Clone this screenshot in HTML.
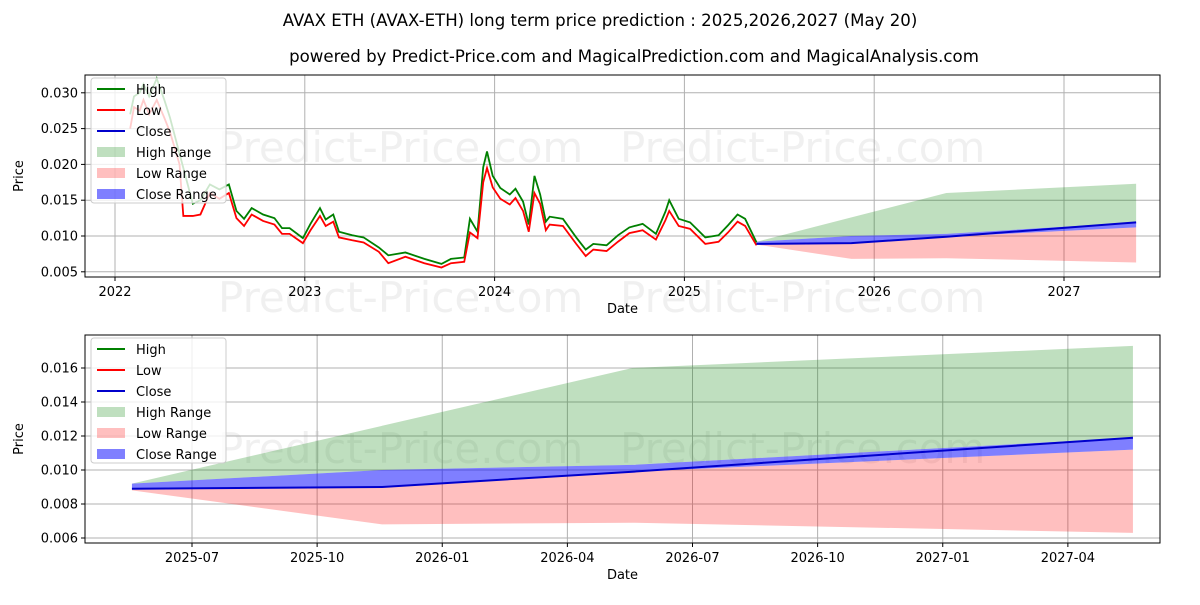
<!DOCTYPE html>
<html><head><meta charset="utf-8"><style>
body{margin:0;background:#fff;font-family:"Liberation Sans","DejaVu Sans",sans-serif}
svg text{font-family:"DejaVu Sans","Liberation Sans",sans-serif}
</style></head><body>
<svg id="c" width="1200" height="600" viewBox="0 0 1200 600" xmlns="http://www.w3.org/2000/svg">
<text x="600" y="26" text-anchor="middle" font-size="16.6">AVAX ETH (AVAX-ETH) long term price prediction : 2025,2026,2027 (May 20)</text>
<text x="634" y="62" text-anchor="middle" font-size="16.6">powered by Predict-Price.com and MagicalPrediction.com and MagicalAnalysis.com</text>
</svg>
<script>
// historical data (decimal year)
const histDates=[2022.08,2022.10,2022.13,2022.15,2022.18,2022.22,2022.26,2022.29,2022.34,2022.36,2022.41,2022.45,2022.50,2022.55,2022.60,2022.64,2022.68,2022.72,2022.78,2022.84,2022.88,2022.92,2022.99,2023.03,2023.08,2023.11,2023.15,2023.18,2023.25,2023.31,2023.39,2023.44,2023.53,2023.63,2023.72,2023.77,2023.84,2023.87,2023.91,2023.94,2023.96,2023.99,2024.03,2024.08,2024.11,2024.15,2024.18,2024.21,2024.24,2024.27,2024.29,2024.36,2024.43,2024.48,2024.52,2024.59,2024.65,2024.71,2024.78,2024.85,2024.90,2024.92,2024.97,2025.03,2025.11,2025.18,2025.23,2025.28,2025.32,2025.38];
const histHigh=[0.0270,0.0295,0.0300,0.0312,0.0295,0.0320,0.0290,0.0265,0.0215,0.0195,0.0145,0.0150,0.0172,0.0165,0.0172,0.0135,0.0124,0.0139,0.0130,0.0125,0.0111,0.0111,0.0097,0.0117,0.0139,0.0123,0.0130,0.0106,0.0101,0.0098,0.0084,0.0073,0.0077,0.0068,0.0061,0.0068,0.0070,0.0124,0.0106,0.0196,0.0218,0.0184,0.0167,0.0158,0.0166,0.0148,0.0116,0.0184,0.0158,0.0120,0.0127,0.0124,0.0098,0.0081,0.0089,0.0087,0.0101,0.0112,0.0117,0.0103,0.0134,0.0150,0.0124,0.0119,0.0098,0.0101,0.0115,0.0130,0.0124,0.0091];
const histLow=[0.0250,0.0280,0.0275,0.0290,0.0270,0.0290,0.0265,0.0245,0.0200,0.0128,0.0128,0.0130,0.0160,0.0152,0.0160,0.0125,0.0114,0.0130,0.0121,0.0116,0.0103,0.0103,0.0090,0.0108,0.0128,0.0114,0.0120,0.0098,0.0094,0.0091,0.0078,0.0062,0.0071,0.0062,0.0056,0.0062,0.0064,0.0105,0.0097,0.0175,0.0195,0.0168,0.0152,0.0144,0.0153,0.0135,0.0106,0.0160,0.0145,0.0108,0.0116,0.0114,0.0089,0.0072,0.0081,0.0079,0.0092,0.0104,0.0108,0.0095,0.0122,0.0135,0.0114,0.0110,0.0089,0.0092,0.0105,0.0120,0.0114,0.0087];
// forecast data
const fcDates=[2025.38,2025.88,2026.38,2027.38];
const fcClose=[0.0089,0.0090,0.0099,0.0119];
const fcCloseLow=[0.0089,0.0090,0.0099,0.0112];
const fcCloseHigh=[0.0092,0.0100,0.0103,0.0119];
const fcHighUp=[0.0092,0.0126,0.0160,0.0173];
const fcLowDown=[0.0088,0.0068,0.0069,0.0063];
const topYTicks=[0.005,0.010,0.015,0.020,0.025,0.030];
const topXTicks=[2022,2023,2024,2025,2026,2027];
const botYTicks=[0.006,0.008,0.010,0.012,0.014,0.016];
const botXTicks=[2025.5,2025.75,2026,2026.25,2026.5,2026.75,2027,2027.25];
const botXLabels=["2025-07","2025-10","2026-01","2026-04","2026-07","2026-10","2027-01","2027-04"];

const svg=document.getElementById('c');const NS='http://www.w3.org/2000/svg';
function mk(t,a,p){const e=document.createElementNS(NS,t);for(const k in a)e.setAttribute(k,a[k]);(p||svg).appendChild(e);return e;}
function txt(x,y,s,a,p){const e=mk('text',Object.assign({x:x,y:y},a),p);e.textContent=s;return e;}

function panel(P){
  const g=mk('g',{});
  
  
  const X=P.x, Y=P.y;
  P.wm.forEach(w=>{const t=txt(w[0],w[1],'Predict-Price.com',{'font-size':42,fill:'#000','fill-opacity':0.06},g);
    
    });
  P.yt.forEach(v=>{mk('line',{x1:P.l,x2:P.r,y1:Y(v),y2:Y(v),stroke:'#b0b0b0','stroke-width':1},g);
    mk('line',{x1:P.l-4,x2:P.l,y1:Y(v),y2:Y(v),stroke:'#000'},g);
    const t=txt(P.l-7,Y(v)+4.5,v.toFixed(3),{'font-size':13,'text-anchor':'end'},g);
    
    });
  P.xt.forEach((v,i)=>{mk('line',{x1:X(v),x2:X(v),y1:P.t,y2:P.b,stroke:'#b0b0b0','stroke-width':1},g);
    mk('line',{x1:X(v),x2:X(v),y1:P.b,y2:P.b+4,stroke:'#000'},g);
    const t=txt(X(v),P.b+19,P.xl[i],{'font-size':13,'text-anchor':'middle'},g);
    
    });
  function band(up,lo,fill,op,name){
    let d='M'+fcDates.map((t,i)=>X(t)+','+Y(up[i])).join('L');
    d+='L'+fcDates.map((t,i)=>X(t)+','+Y(lo[i])).reverse().join('L')+'Z';
    const e=mk('path',{d:d,fill:fill,'fill-opacity':op},g);
    
    }
  band(fcHighUp,fcCloseHigh,'#008000',0.25,'high-range-band');
  band(fcCloseLow,fcLowDown,'#ff0000',0.25,'low-range-band');
  band(fcCloseHigh,fcCloseLow,'#0000ff',0.5,'close-range-band');
  if(P.hist){
    const h=mk('polyline',{points:histDates.map((t,i)=>X(t)+','+Y(histHigh[i])).join(' '),fill:'none',stroke:'#008000','stroke-width':1.8},g);
    
    
    const lo=mk('polyline',{points:histDates.map((t,i)=>X(t)+','+Y(histLow[i])).join(' '),fill:'none',stroke:'#ff0000','stroke-width':1.8},g);
    
    
  }
  const c=mk('polyline',{points:fcDates.map((t,i)=>X(t)+','+Y(fcClose[i])).join(' '),fill:'none',stroke:'#0000cc','stroke-width':2},g);
  
  
  mk('rect',{x:P.l,y:P.t,width:P.r-P.l,height:P.b-P.t,fill:'none',stroke:'#000','stroke-width':1},g);
  const xt=txt((P.l+P.r)/2,P.b+36,'Date',{'font-size':13,'text-anchor':'middle'},g);
  
  
  const yt=txt(0,0,'Price',{'font-size':13,'text-anchor':'middle',transform:'translate('+(P.l-62)+','+((P.t+P.b)/2)+') rotate(-90)'},g);
  
  
  const lg=mk('g',{},g);
  
  
  const ly=P.t+3;
  mk('rect',{x:91,y:ly,width:135,height:125,rx:3,fill:'#fff','fill-opacity':0.8,stroke:'#ccc'},lg);
  const items=[['High','line','#008000'],['Low','line','#ff0000'],['Close','line','#0000cc'],['High Range','rect','rgba(0,128,0,0.25)'],['Low Range','rect','rgba(255,0,0,0.25)'],['Close Range','rect','rgba(0,0,255,0.5)']];
  items.forEach((it,i)=>{const yy=ly+11+i*21;
    if(it[1]=='line')mk('line',{x1:97,x2:125,y1:yy,y2:yy,stroke:it[2],'stroke-width':2},lg);
    else mk('rect',{x:97,y:yy-5,width:28,height:10,fill:it[2]},lg);
    const t=txt(136,yy+5,it[0],{'font-size':13},lg);
    
    });
}
panel({name:'history-chart',l:85,r:1160,t:75,b:277,
  x:t=>115+(t-2022)*189.8, y:v=>236-(v-0.010)*7160,
  yt:topYTicks,xt:topXTicks,xl:topXTicks.map(String),hist:true,
  wm:[[218,162],[620,162],[218,312],[620,312]]});
panel({name:'forecast-chart',l:85,r:1160,t:335,b:543,
  x:t=>192+(t-2025.5)*500.5, y:v=>470-(v-0.010)*17000,
  yt:botYTicks,xt:botXTicks,xl:botXLabels,hist:false,
  wm:[[218,463],[620,463]]});
</script>
</body></html>
